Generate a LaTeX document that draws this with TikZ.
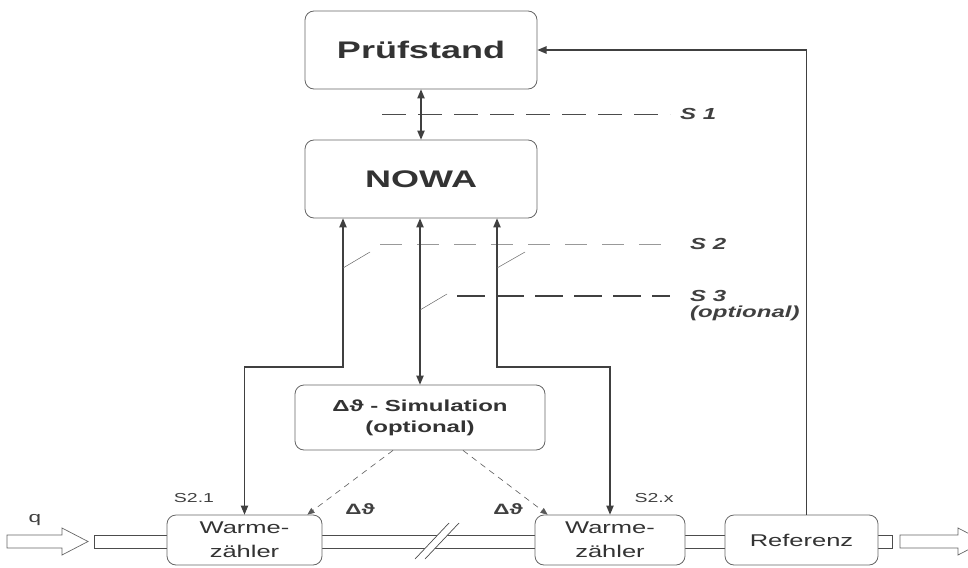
\documentclass[tikz,border=0pt]{standalone}
\usepackage{fontspec}
\setmainfont[FakeStretch=1.5]{Liberation Sans}
\usetikzlibrary{arrows}

\begin{document}
\begin{tikzpicture}[x=1pt, y=-1pt, >=triangle 45,
  box/.style={draw=black!60, line width=.8pt, rounded corners=9pt, fill=white, text=black!80, align=center, inner sep=0pt},
  wire/.style={black!75, line width=1.1pt},
  tap/.style={black!60, line width=.5pt},
  bus/.style={line width=.9pt},
  lbl/.style={text=black!75, inner sep=2pt}]
\useasboundingbox (0,0) rectangle (968,567);

% Rohrleitung
\draw[black!70, line width=.8pt] (94,535) rectangle (892,548);
\fill[white] (417,557) -- (447,525) -- (457,525) -- (427,557) -- cycle;
\draw[black!70, line width=.7pt] (415,559) -- (449,523) (425,559) -- (459,523);

% Durchfluss ein / aus
\draw[black!60, line width=.7pt] (7,535) -- (62,535) -- (62,528) -- (88,541.5) -- (62,555) -- (62,548) -- (7,548) -- cycle;
\draw[black!60, line width=.7pt] (900,535) -- (958,535) -- (958,528) -- (984,541.5) -- (958,555) -- (958,548) -- (900,548) -- cycle;
\node[lbl, font=\fontsize{15}{18}\selectfont] (q) at (35,520) {q};

\node[box, minimum width=232pt, minimum height=78pt, font=\fontsize{24}{28}\selectfont\bfseries] (pruef) at (421,50) {Prüfstand};
\node[box, minimum width=232pt, minimum height=78pt, font=\fontsize{24}{28}\selectfont\bfseries] (nowa) at (421,179) {NOWA};
\node[box, minimum width=250pt, minimum height=65pt, font=\fontsize{16}{21}\selectfont\bfseries] (sim) at (420,417.5) {Δϑ - Simulation\\(optional)};
\node[box, minimum width=155pt, minimum height=50pt, font=\fontsize{17}{24}\selectfont] (w1) at (244.5,540) {Warme-\\zähler};
\node[box, minimum width=150pt, minimum height=50pt, font=\fontsize{17}{24}\selectfont] (w2) at (610,540) {Warme-\\zähler};
\node[box, minimum width=153pt, minimum height=50pt, font=\fontsize{17}{20}\selectfont] (ref) at (801.5,540) {Referenz};

\node[lbl, anchor=west, font=\fontsize{16}{19}\selectfont\bfseries\itshape] (s1) at (678,114) {S 1};
\node[lbl, anchor=west, font=\fontsize{16}{19}\selectfont\bfseries\itshape] (s2) at (688,244) {S 2};
\node[lbl, anchor=west, font=\fontsize{16}{19}\selectfont\bfseries\itshape] (s3) at (688,296) {S 3};
\node[lbl, anchor=north west, font=\fontsize{16}{19}\selectfont\bfseries\itshape] (s3opt) at (s3.south west) {(optional)};
\node[lbl, font=\fontsize{13}{16}\selectfont] (s21) at (194,498) {S2.1};
\node[lbl, font=\fontsize{13}{16}\selectfont] (s2x) at (654,498) {S2.x};
\node[lbl, font=\fontsize{15}{16}\selectfont\bfseries] (dt1) at (360,509) {Δϑ};
\node[lbl, font=\fontsize{15}{16}\selectfont\bfseries] (dt2) at (508,509) {Δϑ};

% Schnittstellen
\draw[bus, black!70, dash pattern=on 24pt off 12pt] (382,114) -- ([xshift=-8pt]s1.west);
\draw[bus, black!40, line width=.6pt, dash pattern=on 22pt off 15pt] (380,244) -- ([xshift=-18pt]s2.west);
\draw[bus, black!75, line width=1.3pt, dash pattern=on 28pt off 11pt] (457,296) -- ([xshift=-18pt]s3.west);

\coordinate (tapL) at (343,367);
\coordinate (tapR) at (497,367);
\draw[wire, <->] (pruef) -- (nowa);
\draw[wire, <->] (nowa.south -| tapL) -- (tapL) -| (w1.north);
\draw[wire, <->] (nowa.south -| tapR) -- (tapR) -| (w2.north);
\draw[wire, <->] (nowa.south -| sim.north) -- (sim.north);
\draw[wire, ->] ([xshift=5pt]ref.north) |- (pruef.east);

\draw[tap] (343,268) -- (370,252);
\draw[tap] (497,268) -- (525,252);
\draw[tap] (420,310) -- (447,294);

\draw[black!65, line width=.6pt, dash pattern=on 6pt off 5pt, ->] ([xshift=-27pt]sim.south) -- ([xshift=-15pt]w1.north east);
\draw[black!65, line width=.6pt, dash pattern=on 6pt off 5pt, ->] ([xshift=43pt]sim.south) -- ([xshift=13pt]w2.north west);
\end{tikzpicture}
\end{document}
